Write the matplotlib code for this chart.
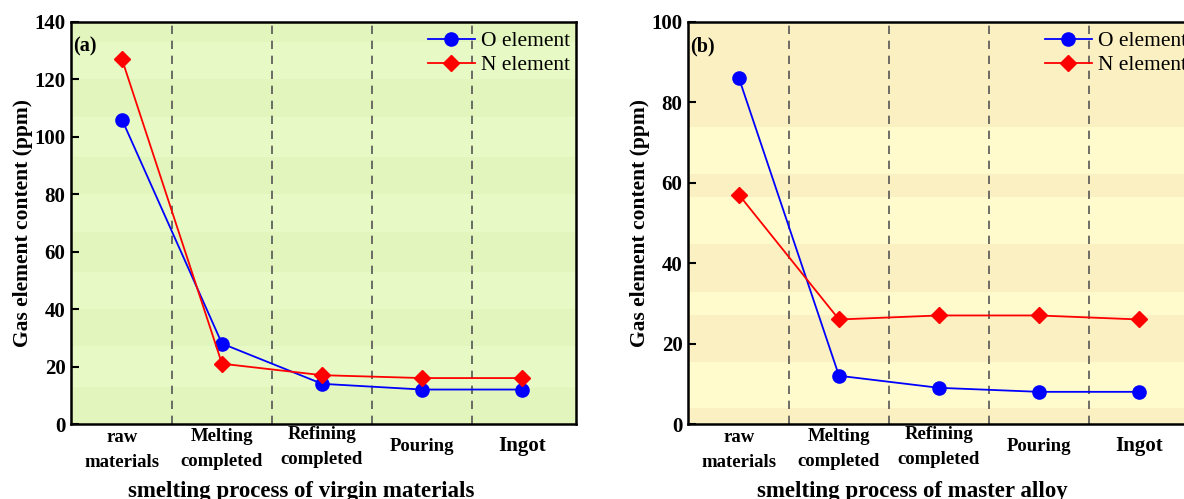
import matplotlib
matplotlib.use("Agg")
import matplotlib.pyplot as plt
from matplotlib.transforms import ScaledTranslation

plt.rcParams['font.family'] = ['Liberation Serif', 'DejaVu Serif']
plt.rcParams['mathtext.fontset'] = 'stix'

categories = ["raw\nmaterials", "Melting\ncompleted", "Refining\ncompleted", "Pouring", "Ingot"]
o_virgin = [106, 28, 14, 12, 12]
n_virgin = [127, 21, 17, 16, 16]
o_master = [86, 12, 9, 8, 8]
n_master = [57, 26, 27, 27, 26]

xlabel_a = "smelting process of virgin materials"
xlabel_b = "smelting process of master alloy"
ylabel = "Gas element content (ppm)"

# background band edges (value units) and colors
bands_a = [0, 13, 27, 40, 53, 67, 80, 93, 107, 120, 133, 140]
bands_a_cols = ["#e1f5bc", "#e7f9c5"]
bands_b = [0, 4, 15.4, 27, 32.8, 44.8, 56.5, 62.2, 74, 100]
bands_b_cols = ["#fbf0c2", "#fffbcd"]

fig = plt.figure(figsize=(11.84, 4.99), dpi=100)
ax1 = fig.add_axes([71/1184, 75/499, 505/1184, 402/499])
ax2 = fig.add_axes([688/1184, 75/499, 505/1184, 402/499])

# vertical nudge (pixels, downward) for each category label
label_shift_px = [4, 3, 1, 0, 0]


def draw(ax, o, n, ymax, yticks, bands, bcols, xlabel, tag, xlab_x):
    x = list(range(len(categories)))
    for i in range(len(bands) - 1):
        ax.axhspan(bands[i], bands[i+1], color=bcols[i % 2], lw=0, zorder=0)
    for b in [0.5, 1.5, 2.5, 3.5]:
        ax.axvline(b, color="#555555", ls=(0, (5, 4)), lw=1.2, zorder=1)
    ax.plot(x, o, color="#0000ff", marker="o", ms=9.5, lw=1.3, label="O element", zorder=3)
    ax.plot(x, n, color="#ff0000", marker="D", ms=8, lw=1.3, label="N element", zorder=3)
    ax.set_xlim(-0.51, 4.54)
    ax.set_ylim(0, ymax)
    ax.set_yticks(yticks)
    ax.set_yticklabels([str(v) for v in yticks], fontsize=15, fontweight="bold")
    ax.tick_params(axis="y", direction="in", length=6, width=1.5, pad=4)
    ax.set_xticks(x)
    ax.tick_params(axis="x", length=0, pad=16)
    ax.set_xticklabels(categories, fontsize=13.5, fontweight="bold", linespacing=1.65)
    labs = ax.get_xticklabels()
    for lab, sh in zip(labs, label_shift_px):
        lab.set_verticalalignment("center")
        lab.set_transform(lab.get_transform() + ScaledTranslation(0, -sh / 100, fig.dpi_scale_trans))
    labs[-1].set_fontsize(15)
    for s in ax.spines.values():
        s.set_linewidth(1.8)
    ax.set_ylabel(ylabel, fontsize=15.5, fontweight="bold", labelpad=1)
    ax.set_xlabel(xlabel, fontsize=16.5, fontweight="bold")
    ax.xaxis.set_label_coords(xlab_x, -0.142)
    ax.text(0.004, 0.965, tag, transform=ax.transAxes, fontsize=14.5, fontweight="bold",
            va="top", ha="left")
    ax.legend(loc="upper right", fontsize=15.5, frameon=False, handlelength=2.2,
              handletextpad=0.3, borderaxespad=0.0, borderpad=0.25, labelspacing=0.18,
              bbox_to_anchor=(1.0, 0.99))


draw(ax1, o_virgin, n_virgin, 140, [0, 20, 40, 60, 80, 100, 120, 140], bands_a, bands_a_cols, xlabel_a, "(a)", 0.455)
draw(ax2, o_master, n_master, 100, [0, 20, 40, 60, 80, 100], bands_b, bands_b_cols, xlabel_b, "(b)", 0.444)

fig.savefig("out.png", dpi=100)
